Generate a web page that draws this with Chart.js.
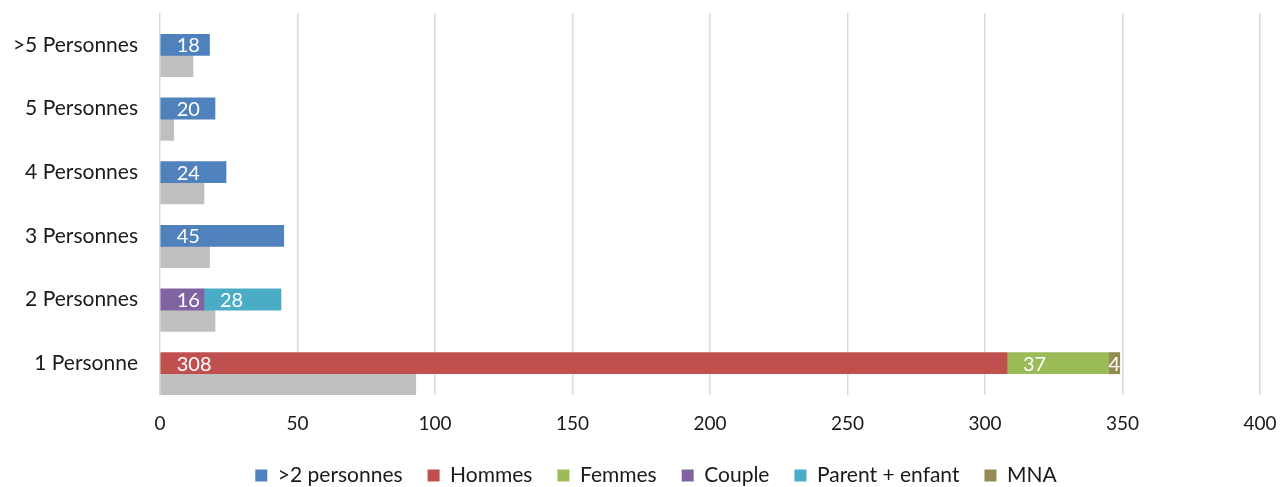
<!DOCTYPE html>
<html>
<head>
<meta charset="utf-8">
<script src="https://cdn.jsdelivr.net/npm/chart.js@4/dist/chart.umd.min.js"></script>
<style>
  html, body { margin: 0; padding: 0; background: #fff; }
  #wrap { width: 1282px; height: 487px; }
</style>
</head>
<body>
<div id="wrap"><canvas id="chart" width="1282" height="487"></canvas></div>
<script>
const categories = ['>5 Personnes', '5 Personnes', '4 Personnes', '3 Personnes', '2 Personnes', '1 Personne'];
const plusDeDeux = [18, 20, 24, 45, null, null];
const hommes = [null, null, null, null, null, 308];
const femmes = [null, null, null, null, null, 37];
const couple = [null, null, null, null, 16, null];
const parentEnfant = [null, null, null, null, 28, null];
const mna = [null, null, null, null, null, 4];
const autre = [12, 5, 16, 18, 20, 93];
const xTicks = [0, 50, 100, 150, 200, 250, 300, 350, 400];

const FONT = 'Lato, "Open Sans", sans-serif';

// white value labels inside the coloured bars
const valueLabels = {
  id: 'valueLabels',
  afterDatasetsDraw(chart) {
    const ctx = chart.ctx;
    ctx.save();
    ctx.font = '20px ' + FONT;
    ctx.fillStyle = '#fff';
    ctx.textBaseline = 'middle';
    ctx.textAlign = 'left';
    chart.data.datasets.forEach((ds, i) => {
      if (ds.stack !== 'main') return;
      const meta = chart.getDatasetMeta(i);
      meta.data.forEach((bar, j) => {
        const v = ds.data[j];
        if (v == null) return;
        const txt = String(v);
        const w = ctx.measureText(txt).width;
        const start = Math.min(bar.base, bar.x);
        const end = Math.max(bar.base, bar.x);
        // near the base when it fits, centred otherwise
        const x = start + 16 + w <= end ? start + 16 : (start + end) / 2 - w / 2;
        ctx.fillText(txt, x, bar.y + 1);
      });
    });
    ctx.restore();
  }
};

const fixLegend = {
  id: 'fixLegend',
  beforeInit(chart) {
    const fit = chart.legend.fit;
    chart.legend.fit = function () {
      fit.bind(chart.legend)();
      this.height = 47;
    };
  },
  afterLayout(chart) {
    // legend sits a bit right of centre in the original
    chart.legend.left += 26;
    chart.legend.right += 26;
  }
};

const noScalePadding = (axis) => {
  axis.paddingTop = 0;
  axis.paddingBottom = 0;
  axis.paddingLeft = 0;
  axis.paddingRight = 0;
};

new Chart(document.getElementById('chart'), {
  type: 'bar',
  data: {
    labels: categories,
    datasets: [
      { label: '', data: categories.map(() => null), stack: 'pad', backgroundColor: 'rgba(0,0,0,0)' },
      { label: '>2 personnes', data: plusDeDeux, stack: 'main', backgroundColor: '#4F81BD' },
      { label: 'Hommes', data: hommes, stack: 'main', backgroundColor: '#C0504D' },
      { label: 'Femmes', data: femmes, stack: 'main', backgroundColor: '#9BBB59' },
      { label: 'Couple', data: couple, stack: 'main', backgroundColor: '#8064A2' },
      { label: 'Parent + enfant', data: parentEnfant, stack: 'main', backgroundColor: '#4BACC6' },
      { label: 'MNA', data: mna, stack: 'main', backgroundColor: '#948A54' },
      { label: '', data: autre, stack: 'autre', backgroundColor: '#BFBFBF' }
    ]
  },
  options: {
    indexAxis: 'y',
    responsive: false,
    animation: false,
    layout: { padding: { top: 13, right: 22, left: 0, bottom: 0 } },
    datasets: { bar: { categoryPercentage: 1.0, barPercentage: 1.0 } },
    scales: {
      x: {
        stacked: true,
        min: 0,
        max: 400,
        afterBuildTicks(axis) { axis.ticks = xTicks.map(v => ({ value: v })); },
        afterFit(axis) { axis.height = 45; noScalePadding(axis); },
        grid: { color: '#D9D9D9', lineWidth: 1.5, drawTicks: false },
        border: { display: false },
        ticks: { color: '#1a1a1a', font: { family: FONT, size: 19 }, padding: 17 }
      },
      y: {
        stacked: true,
        afterFit(axis) { axis.width = 160; noScalePadding(axis); },
        grid: { display: false },
        border: { display: false },
        ticks: { color: '#1a1a1a', font: { family: FONT, size: 21 }, padding: 14 }
      }
    },
    plugins: {
      legend: {
        position: 'bottom',
        labels: {
          filter: (item) => item.text !== '',
          boxWidth: 12,
          boxHeight: 12,
          padding: 25,
          color: '#1a1a1a',
          font: { family: FONT, size: 21 }
        }
      },
      tooltip: { enabled: false }
    }
  },
  plugins: [valueLabels, fixLegend]
});
</script>
</body>
</html>
